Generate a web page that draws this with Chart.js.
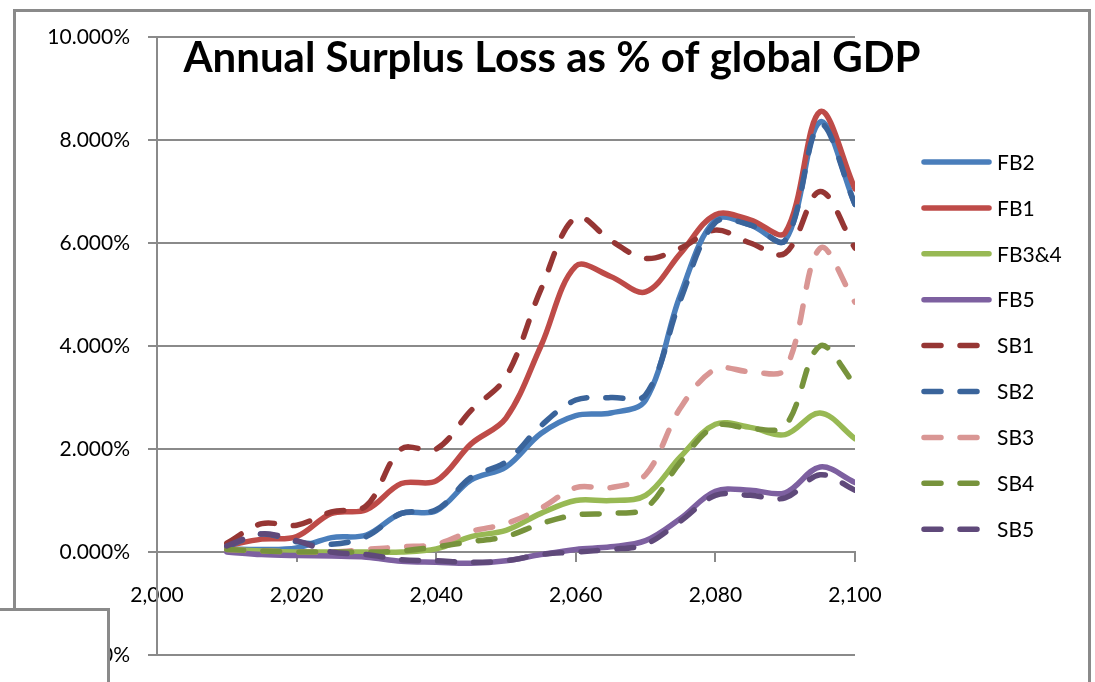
<!DOCTYPE html>
<html>
<head>
<meta charset="utf-8">
<title>Annual Surplus Loss as % of global GDP</title>
<script src="https://cdn.jsdelivr.net/npm/chart.js@4.4.1/dist/chart.umd.min.js"></script>
<style>
  html, body { margin: 0; padding: 0; background: #fff; overflow: hidden; }
  #wrap { position: relative; width: 1095px; height: 682px; overflow: hidden; }
  #frame { position: absolute; left: 13px; top: 9px; width: 1078px; height: 720px;
           border: 3px solid #8a8a8a; box-sizing: border-box; }
  #chart { position: absolute; left: 0; top: 0; }
  #patch { position: absolute; left: -10px; top: 608px; width: 120px; height: 100px;
           background: #fff; border-top: 3px solid #8a8a8a; border-right: 3px solid #8a8a8a;
           box-sizing: border-box; }
</style>
</head>
<body>
<div id="wrap">
  <div id="frame"></div>
  <canvas id="chart" width="1095" height="682"></canvas>
  <div id="patch"></div>
</div>
<script>
// Years sampled every five years
const years = [2010, 2015, 2020, 2025, 2030, 2035, 2040, 2045, 2050, 2055,
               2060, 2065, 2070, 2075, 2080, 2085, 2090, 2095, 2100];

// Annual surplus loss, % of global GDP
const fb2  = [0.06, 0.05, 0.08, 0.28, 0.33, 0.75, 0.80, 1.40, 1.65, 2.30, 2.65, 2.70, 2.95, 5.00, 6.45, 6.35, 6.05, 8.35, 6.75];
const fb1  = [0.12, 0.25, 0.30, 0.75, 0.82, 1.33, 1.38, 2.10, 2.60, 4.00, 5.55, 5.35, 5.05, 5.80, 6.55, 6.45, 6.20, 8.55, 7.05];
const fb34 = [0.05, 0.02, 0.00, 0.00, 0.00, 0.00, 0.06, 0.30, 0.42, 0.75, 1.00, 1.00, 1.10, 1.85, 2.48, 2.42, 2.28, 2.70, 2.20];
const fb5  = [0.00, -0.05, -0.07, -0.08, -0.10, -0.18, -0.20, -0.22, -0.17, -0.05, 0.05, 0.10, 0.22, 0.65, 1.18, 1.20, 1.15, 1.65, 1.35];
const sb1  = [0.17, 0.55, 0.52, 0.78, 0.90, 2.00, 2.00, 2.75, 3.40, 5.10, 6.50, 6.05, 5.70, 5.90, 6.25, 6.00, 5.80, 7.00, 5.90];
const sb2  = [0.10, 0.35, 0.20, 0.15, 0.30, 0.75, 0.82, 1.45, 1.75, 2.45, 2.95, 3.00, 3.05, 4.90, 6.40, 6.35, 6.05, 8.30, 6.75];
const sb3  = [0.05, 0.02, 0.00, 0.00, 0.05, 0.10, 0.15, 0.40, 0.55, 0.85, 1.25, 1.25, 1.50, 2.80, 3.55, 3.50, 3.55, 5.90, 4.85];
const sb4  = [0.05, 0.02, 0.00, 0.00, 0.00, 0.02, 0.10, 0.20, 0.30, 0.55, 0.72, 0.75, 0.85, 1.75, 2.45, 2.40, 2.45, 4.00, 3.25];
const sb5  = [0.12, 0.35, 0.22, 0.00, -0.05, -0.15, -0.17, -0.20, -0.17, -0.05, 0.00, 0.05, 0.15, 0.60, 1.10, 1.10, 1.05, 1.50, 1.20];

const seriesNames = ['FB2', 'FB1', 'FB3&4', 'FB5', 'SB1', 'SB2', 'SB3', 'SB4', 'SB5'];
const seriesValues = [fb2, fb1, fb34, fb5, sb1, sb2, sb3, sb4, sb5];
const seriesColors = ['#4a7ebb', '#be4b48', '#98b954', '#7d60a0',
                      '#963634', '#3a649b', '#d99694', '#77933c', '#5f497a'];
const dashed = [false, false, false, false, true, true, true, true, true];

const DASH = [17, 19];
const FONT = 'Lato, "Open Sans", sans-serif';

const datasets = seriesNames.map((name, i) => ({
  label: name,
  data: years.map((yr, k) => ({ x: yr, y: seriesValues[i][k] })),
  borderColor: seriesColors[i],
  backgroundColor: seriesColors[i],
  borderWidth: 5.5,
  borderDash: dashed[i] ? DASH : [],
  borderCapStyle: 'round',
  borderJoinStyle: 'round',
  pointRadius: 0,
  tension: 0.35,
  fill: false,
  // later series are painted over earlier ones
  order: seriesNames.length - i
}));

// Title drawn over the top of the plot area
const titlePlugin = {
  id: 'plotTitle',
  afterDraw(chart, args, o) {
    const ctx = chart.ctx;
    ctx.save();
    ctx.font = o.font;
    ctx.fillStyle = '#000';
    ctx.textAlign = 'center';
    ctx.textBaseline = 'alphabetic';
    ctx.fillText(o.text, o.x, o.y);
    ctx.restore();
  }
};

// Legend column to the right of the plot
const sideLegend = {
  id: 'sideLegend',
  afterDraw(chart, args, o) {
    const ctx = chart.ctx;
    ctx.save();
    chart.data.datasets.forEach((ds, i) => {
      const y = o.top + i * o.step;
      ctx.beginPath();
      ctx.lineWidth = ds.borderWidth;
      ctx.strokeStyle = ds.borderColor;
      ctx.lineCap = 'round';
      ctx.setLineDash(ds.borderDash || []);
      ctx.moveTo(o.x0, y);
      ctx.lineTo(o.x1, y);
      ctx.stroke();
      ctx.setLineDash([]);
      ctx.fillStyle = '#000';
      ctx.font = o.font;
      ctx.textAlign = 'left';
      ctx.textBaseline = 'middle';
      ctx.fillText(ds.label, o.textX, y + 1);
    });
    ctx.restore();
  }
};

new Chart(document.getElementById('chart'), {
  type: 'line',
  data: { datasets },
  plugins: [titlePlugin, sideLegend],
  options: {
    responsive: false,
    animation: false,
    devicePixelRatio: 1,
    layout: { padding: { top: 37, right: 240, bottom: 27, left: 0 } },
    plugins: {
      legend: { display: false },
      tooltip: { enabled: false },
      plotTitle: {
        text: 'Annual Surplus Loss as % of global GDP',
        font: 'bold 42px ' + FONT,
        x: 552, y: 72
      },
      sideLegend: {
        top: 162, step: 45.9, x0: 924, x1: 989, textX: 997,
        font: '21px ' + FONT
      }
    },
    scales: {
      x: {
        type: 'linear',
        min: 2000, max: 2100,
        position: { y: 0 },
        ticks: {
          stepSize: 20,
          autoSkip: false,
          maxRotation: 0,
          padding: 22,
          color: '#000',
          font: { family: FONT, size: 21 },
          callback: v => v.toLocaleString('en-US')
        },
        grid: { drawOnChartArea: false, drawTicks: true, tickLength: 9, color: '#8a8a8a', lineWidth: 2 },
        border: { display: true, color: '#8a8a8a', width: 2 }
      },
      y: {
        min: -2, max: 10,
        afterFit(scale) {
          scale.width = 157;
          // the layout padding already leaves room for the end labels
          scale.paddingTop = 0;
          scale.paddingBottom = 0;
        },
        ticks: {
          stepSize: 2,
          padding: 18,
          color: '#000',
          font: { family: FONT, size: 21 },
          callback: v => v.toFixed(3) + '%'
        },
        grid: { color: '#8a8a8a', lineWidth: 2, tickLength: 9 },
        border: { display: true, color: '#8a8a8a', width: 2 }
      }
    }
  }
});
</script>
</body>
</html>
